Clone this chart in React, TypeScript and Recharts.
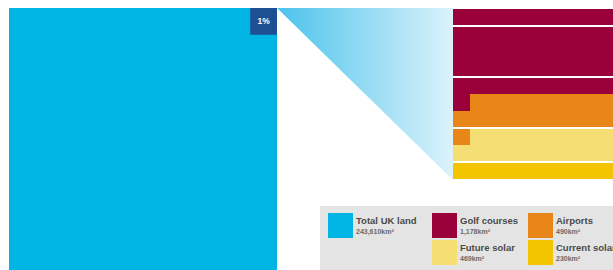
import React from "react";
import { BarChart, ComposedChart, Bar, XAxis, YAxis, ReferenceArea, ReferenceLine } from "recharts";

// the 1% box is magnified into a 10x10 grid; each cell is 1% of that box
const categories = ["Golf courses", "Airports", "Future solar", "Current solar"];
const seriesKeys = ["golf", "airports", "futureSolar", "currentSolar"];
const cellCounts = [51, 20, 19, 10];
const areaLabels = ["1,178km²", "490km²", "469km²", "230km²"];
const colors = ["#9a0039", "#e8861a", "#f5df75", "#f2c500"];

const totalLabel = "Total UK land";
const totalArea = "243,610km²";
const totalShare = 100; // percent
const zoomShare = 1; // percent of UK land shown magnified
const zoomLabel = "1%";

const gridSize = 10;
const separatorRows = [1, 4, 7, 9];

const CYAN = "#00b5e4";
const NAVY = "#1d4f94";

function buildRows() {
  const rows: any[] = [];
  let cat = 0;
  let left = cellCounts[0];
  for (let r = 0; r < gridSize; r++) {
    const row: any = { row: "r" + r };
    seriesKeys.forEach((k) => (row[k] = 0));
    let space = gridSize;
    while (space > 0 && cat < seriesKeys.length) {
      const take = Math.min(space, left);
      row[seriesKeys[cat]] += take;
      space -= take;
      left -= take;
      if (left === 0) {
        cat++;
        left = cellCounts[cat] ?? 0;
      }
    }
    rows.push(row);
  }
  return rows;
}

const rows = buildRows();

const legendItems = [
  { label: totalLabel, value: totalArea, color: CYAN, x: 328, y: 213 },
  { label: categories[0], value: areaLabels[0], color: colors[0], x: 432, y: 213 },
  { label: categories[1], value: areaLabels[1], color: colors[1], x: 528, y: 213 },
  { label: categories[2], value: areaLabels[2], color: colors[2], x: 432, y: 240 },
  { label: categories[3], value: areaLabels[3], color: colors[3], x: 528, y: 240 },
];

export default function App() {
  // side of a square holding a given share of the total square
  const side = (share: number) => Math.sqrt(share / totalShare) * 100;
  const zoomSide = side(zoomShare);
  const font = "'Liberation Sans', Arial, sans-serif";

  return (
    <div style={{ position: "absolute", left: 0, top: 0, width: 613, height: 270, overflow: "hidden", background: "#fff", fontFamily: font }}>
      <div style={{ position: "absolute", left: 9, top: 8 }}>
        <ComposedChart width={268} height={268} data={[{ x: 0, y: 0 }, { x: 100, y: 100 }]} margin={{ top: 0, right: 0, bottom: 0, left: 0 }}>
          <XAxis type="number" dataKey="x" domain={[0, 100]} hide />
          <YAxis type="number" dataKey="y" domain={[0, 100]} hide />
          <ReferenceArea x1={0} x2={side(totalShare)} y1={100 - side(totalShare)} y2={100} fill={CYAN} fillOpacity={1} stroke="none" />
          <ReferenceArea
            x1={100 - zoomSide}
            x2={100}
            y1={100 - zoomSide}
            y2={100}
            fill={NAVY}
            fillOpacity={1}
            stroke="none"
            label={{ value: zoomLabel, position: "center", fill: "#fff", fontSize: 8.5, fontWeight: 700, fontFamily: font }}
          />
        </ComposedChart>
      </div>

      <svg style={{ position: "absolute", left: 277, top: 8 }} width={176} height={172}>
        <defs>
          <linearGradient id="zoomFade" x1="0" y1="0" x2="1" y2="0">
            <stop offset="0%" stopColor="#4cc3ec" />
            <stop offset="100%" stopColor="#dcf2fb" />
          </linearGradient>
        </defs>
        <polygon points="0,0 176,0 176,172" fill="url(#zoomFade)" />
      </svg>

      <div style={{ position: "absolute", left: 453, top: 9 }}>
        <BarChart layout="vertical" width={170} height={170} data={rows} margin={{ top: 0, right: 0, bottom: 0, left: 0 }} barCategoryGap={0}>
          <XAxis type="number" domain={[0, gridSize]} hide />
          <YAxis type="category" dataKey="row" hide />
          {seriesKeys.map((k, i) => (
            <Bar key={k} dataKey={k} stackId="a" fill={colors[i]} isAnimationActive={false} />
          ))}
          {separatorRows.map((r) => (
            <ReferenceLine key={r} y={"r" + r} position="start" stroke="#fff" strokeWidth={2} />
          ))}
        </BarChart>
      </div>

      <div style={{ position: "absolute", left: 320, top: 206, width: 293, height: 64, background: "#e4e4e4" }} />
      {legendItems.map((it) => (
        <div key={it.label} style={{ position: "absolute", left: it.x, top: it.y }}>
          <div style={{ position: "absolute", left: 0, top: 0, width: 25, height: 25, background: it.color }} />
          <div style={{ position: "absolute", left: 28, top: 2, whiteSpace: "nowrap", fontSize: 9.5, fontWeight: 700, color: "#4a4a4a", lineHeight: "12px" }}>
            {it.label}
          </div>
          <div style={{ position: "absolute", left: 28, top: 14, whiteSpace: "nowrap", fontSize: 7, fontWeight: 700, color: "#6a6a6a", lineHeight: "9px" }}>
            {it.value}
          </div>
        </div>
      ))}
    </div>
  );
}
